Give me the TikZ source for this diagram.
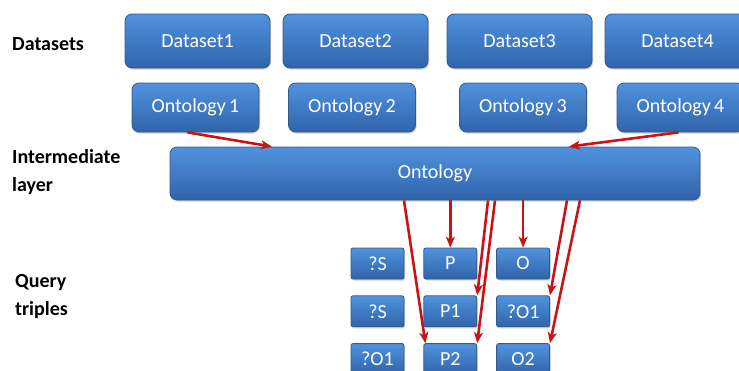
\documentclass[tikz,border=0pt]{standalone}
\usepackage{fontspec}
\setmainfont{Carlito}
\usepackage{xcolor}
\usetikzlibrary{arrows.meta,positioning,shadows}
\definecolor{boxtop}{RGB}{80,146,222}
\definecolor{boxbot}{RGB}{48,100,170}
\definecolor{boxline}{RGB}{55,90,140}
\definecolor{linkred}{RGB}{200,20,20}
\tikzset{
    bluebox/.style={
        draw=boxline,
        line width=0.8pt,
        rounded corners=7pt,
        top color=boxtop,
        bottom color=boxbot,
        text=white,
        font=\fontsize{20}{24}\selectfont,
        inner sep=0pt,
        drop shadow={opacity=0.35, shadow xshift=1pt, shadow yshift=-1.5pt}
    },
    datasetbox/.style={
        bluebox,
        minimum width=145pt,
        minimum height=54pt
    },
    ontbox/.style={
        bluebox,
        minimum width=127pt,
        minimum height=49pt
    },
    layerbox/.style={
        bluebox,
        minimum width=530pt,
        minimum height=53pt
    },
    triplebox/.style={
        bluebox,
        rounded corners=2pt,
        minimum width=53pt,
        minimum height=31pt
    },
    rowlabel/.style={
        font=\bfseries\fontsize{20}{28}\selectfont,
        align=left,
        anchor=base west,
        inner sep=0pt
    },
    link/.style={
        -{Stealth[length=11pt,width=9pt,inset=3pt]},
        line width=2.6pt,
        draw=linkred
    }
}

\begin{document}
\begin{tikzpicture}[x=1pt, y=-1pt]
        \useasboundingbox (0,0) rectangle (739,370);

        % row labels
        \node[rowlabel] (lds) at (12,50) {Datasets};
        \node[rowlabel] (lmid) at (12,191) {Intermediate\\layer};
        \node[rowlabel] (lqry) at (15,315) {Query\\triples};

        % datasets
        \node[datasetbox] (ds1) at (197.5,41) {Dataset1};
        \node[datasetbox] (ds2) at (355.5,41) {Dataset2};
        \node[datasetbox] (ds3) at (519.5,41) {Dataset3};
        \node[datasetbox] (ds4) at (677.5,41) {Dataset4};

        % ontologies
        \node[ontbox] (ont1) at (195.5,107.5) {Ontology\,1};
        \node[ontbox] (ont2) at (352,107.5) {Ontology\,2};
        \node[ontbox] (ont3) at (523,107.5) {Ontology\,3};
        \node[ontbox] (ont4) at (680.5,107.5) {Ontology\,4};

        \node[layerbox] (onto) at (435,173.5) {Ontology};

        % query triples
        \node[triplebox] (qs1) at (377.5,263.5) {?S};
        \node[triplebox, right=19pt of qs1] (p) {P};
        \node[triplebox, right=19pt of p] (o) {O};
        \node[triplebox, below=16pt of qs1] (qs2) {?S};
        \node[triplebox, right=19pt of qs2] (p1) {P1};
        \node[triplebox, right=19pt of p1] (qo1) {?O1};
        \node[triplebox, below=16pt of qs2] (qo3) {?O1};
        \node[triplebox, right=19pt of qo3] (p2) {P2};
        \node[triplebox, right=19pt of p2] (o2) {O2};

        \draw[link] ([xshift=-8pt]ont1.south) -- ([xshift=-163pt]onto.north);
        \draw[link] ([xshift=-2pt]ont4.south) -- ([xshift=134pt]onto.north);

        \draw[link] ([xshift=-31pt]onto.south) -- ([xshift=2pt]p2.north west);
        \draw[link] (onto.south -| p.north) -- (p.north);
        \draw[link] ([xshift=53pt]onto.south) -- (p1.north east);
        \draw[link] ([xshift=60pt]onto.south) -- (p2.north east);
        \draw[link] (onto.south -| o.north) -- (o.north);
        \draw[link] ([xshift=132pt]onto.south) -- (qo1.north east);
        \draw[link] ([xshift=145pt]onto.south) -- (o2.north east);
    \end{tikzpicture}
\end{document}
